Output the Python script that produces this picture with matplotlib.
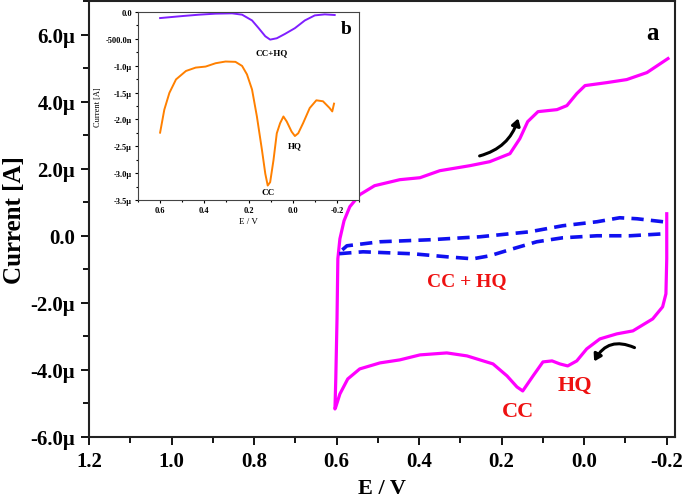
import matplotlib
matplotlib.use("Agg")
import matplotlib.pyplot as plt
from matplotlib.patches import FancyArrowPatch
from matplotlib.ticker import MultipleLocator, FuncFormatter

plt.rcParams['font.family'] = ['Liberation Serif', 'DejaVu Serif']
plt.rcParams['font.weight'] = 'bold'

# main CV, modified electrode (E in V, I in uA)
cv_mod_E = [-0.200, -0.200, -0.198, -0.190, -0.166, -0.118, -0.079, -0.038, -0.006,
            0.018, 0.040, 0.059, 0.078, 0.100, 0.124, 0.149, 0.163, 0.187, 0.221,
            0.284, 0.333, 0.398, 0.447, 0.495, 0.544, 0.573, 0.592, 0.602, 0.604,
            0.602, 0.599, 0.597, 0.592, 0.582, 0.568, 0.544, 0.508, 0.447, 0.398, 0.350,
            0.277, 0.229, 0.180, 0.156, 0.137, 0.112, 0.066, 0.042, 0.018, -0.002,
            -0.055, -0.103, -0.152, -0.203]
cv_mod_I = [0.657, -0.687, -1.731, -2.119, -2.478, -2.836, -2.925, -3.075, -3.373,
            -3.731, -3.881, -3.821, -3.731, -3.761, -4.179, -4.627, -4.507, -4.179, -3.821,
            -3.582, -3.493, -3.552, -3.701, -3.791, -3.970, -4.269, -4.716, -5.104, -5.164,
            -4.269, -2.478, -0.687, -0.090, 0.448, 0.866, 1.224, 1.493, 1.672, 1.731, 1.940,
            2.090, 2.209, 2.448, 2.896, 3.403, 3.701, 3.761, 3.881, 4.239, 4.478,
            4.567, 4.657, 4.866, 5.284]

# main CV, bare electrode (dashed)
cv_bare_E = [-0.191, -0.128, -0.086, -0.031, 0.052, 0.132, 0.253, 0.374, 0.495, 0.575,
             0.597, 0.536, 0.415, 0.333, 0.270, 0.229, 0.173, 0.115, 0.052, -0.031,
             -0.111, -0.195]
cv_bare_I = [0.418, 0.507, 0.537, 0.418, 0.299, 0.119, -0.030, -0.119, -0.179, -0.299,
             -0.537, -0.478, -0.537, -0.627, -0.687, -0.597, -0.388, -0.179, -0.060, 0.0,
             0.0, 0.060]

# inset (b): DPV curves
dpv_mix_E = [0.600, 0.498, 0.424, 0.349, 0.274, 0.229, 0.184, 0.154, 0.124, 0.102,
             0.072, 0.035, -0.010, -0.055, -0.100, -0.145, -0.190]
dpv_mix_I = [-0.113, -0.075, -0.050, -0.031, -0.025, -0.050, -0.157, -0.301, -0.452, -0.514,
             -0.489, -0.408, -0.301, -0.157, -0.063, -0.044, -0.056]

dpv_sep_E = [0.600, 0.581, 0.558, 0.528, 0.483, 0.439, 0.394, 0.349, 0.304, 0.259,
             0.229, 0.207, 0.184, 0.162, 0.139, 0.124, 0.113, 0.102, 0.087, 0.072,
             0.057, 0.042, 0.027, 0.005, -0.010, -0.025, -0.047, -0.077, -0.107, -0.137,
             -0.167, -0.179, -0.187]
dpv_sep_I = [-2.246, -1.819, -1.506, -1.255, -1.098, -1.035, -1.016, -0.954, -0.922, -0.928,
             -1.004, -1.161, -1.443, -1.945, -2.572, -3.011, -3.231, -3.168, -2.760, -2.258,
             -2.070, -1.945, -2.039, -2.227, -2.309, -2.258, -2.070, -1.788, -1.644, -1.662,
             -1.788, -1.851, -1.706]

inset_yticks = [0.0, -0.5, -1.0, -1.5, -2.0, -2.5, -3.0, -3.5]
inset_ylabels = ["0.0", "-500.0n", "-1.0μ", "-1.5μ", "-2.0μ", "-2.5μ", "-3.0μ", "-3.5μ"]


def micro(v, pos):
    if abs(v) < 1e-9:
        return "0.0"
    return "%.1fμ" % v


W, H = 685, 502
fig = plt.figure(figsize=(W / 100, H / 100), dpi=100)
ax = fig.add_axes([89 / W, 1 - 438 / H, (675 - 89) / W, (438 - 2) / H])

ax.plot(cv_mod_E, cv_mod_I, color='#ff00ff', lw=2.3, solid_joinstyle='round')
ax.plot(cv_bare_E, cv_bare_I, color='#1010f0', lw=2.6, ls=(0, (3.4, 2.0)))

ax.set_xlim(1.2, -0.22)
ax.set_ylim(-6, 7)
ax.xaxis.set_major_locator(MultipleLocator(0.2))
ax.xaxis.set_minor_locator(MultipleLocator(0.1))
ax.yaxis.set_major_locator(MultipleLocator(2))
ax.yaxis.set_minor_locator(MultipleLocator(1))
ax.yaxis.set_major_formatter(FuncFormatter(micro))
ax.xaxis.set_major_formatter(FuncFormatter(lambda v, p: "%.1f" % v if abs(v) > 1e-9 else "0.0"))
ax.tick_params(which='major', direction='out', length=6, width=1.3, labelsize=15, pad=4)
ax.tick_params(which='minor', direction='out', length=4, width=1.3)
for s in ax.spines.values():
    s.set_linewidth(1.5)
    s.set_color('#222222')
ax.set_xlabel("E / V", fontsize=16, fontweight='bold', labelpad=5)
ax.set_ylabel("Current [A]", fontsize=18, fontweight='bold', labelpad=3)

ax.text(0.284, -1.34, "CC + HQ", color='#ee1111', fontsize=14, ha='center', va='center')
ax.text(0.161, -5.22, "CC", color='#ee1111', fontsize=16, ha='center', va='center')
ax.text(0.023, -4.45, "HQ", color='#ee1111', fontsize=16, ha='center', va='center')
ax.text(-0.165, 6.05, "a", color='black', fontsize=18, ha='center', va='center')

ax.add_patch(FancyArrowPatch((0.260, 2.36), (0.158, 3.58), connectionstyle="arc3,rad=0.3",
                             arrowstyle='-|>,head_length=4,head_width=2.5', color='black', lw=2.2))
ax.add_patch(FancyArrowPatch((-0.128, -3.37), (-0.021, -3.82), connectionstyle="arc3,rad=0.5",
                             arrowstyle='-|>,head_length=4,head_width=2.5', color='black', lw=2.2))

# inset
ins = fig.add_axes([138 / W, 1 - 201 / H, (359 - 138) / W, (201 - 13) / H])
ins.plot(dpv_mix_E, dpv_mix_I, color='#7f1fff', lw=1.4)
ins.plot(dpv_sep_E, dpv_sep_I, color='#ff8000', lw=1.4)
ins.set_xlim(0.7, -0.3)
ins.set_ylim(-3.5, 0.0)
ins.set_yticks(inset_yticks)
ins.set_yticklabels(inset_ylabels)
ins.yaxis.set_minor_locator(MultipleLocator(0.25))
ins.set_xticks([0.6, 0.4, 0.2, 0.0, -0.2])
ins.set_xticklabels(["0.6", "0.4", "0.2", "0.0", "-0.2"])
ins.xaxis.set_minor_locator(MultipleLocator(0.1))
ins.tick_params(which='major', direction='out', length=2.5, width=0.8, labelsize=6, pad=2)
ins.tick_params(which='minor', direction='out', length=1.5, width=0.8)
for s in ins.spines.values():
    s.set_linewidth(0.8)
    s.set_color('#444444')
ins.set_xlabel("E / V", fontsize=6.5, labelpad=2)
ins.set_ylabel("Current [A]", fontsize=6, labelpad=2)
ins.text(0.095, -0.75, "CC+HQ", fontsize=6.5, ha='center', va='center')
ins.text(-0.01, -2.48, "HQ", fontsize=6.5, ha='center', va='center')
ins.text(0.11, -3.36, "CC", fontsize=6.5, ha='center', va='center')
ins.text(-0.24, -0.3, "b", fontsize=14, ha='center', va='center')

fig.savefig("out.png", dpi=100)
